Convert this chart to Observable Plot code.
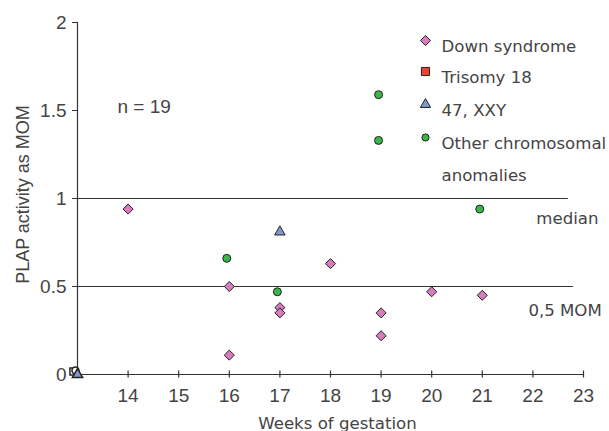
<!DOCTYPE html>
<html><head><meta charset="utf-8">
<script src="https://cdn.jsdelivr.net/npm/d3@7"></script>
<script src="https://cdn.jsdelivr.net/npm/@observablehq/plot@0.6"></script>
<style>body{margin:0;background:#fff} svg{display:block}</style>
</head><body><div id="chart"></div>
<script>
// ---- data ----
const downWeeks  = [14, 16, 16, 17, 17, 18, 19, 19, 20, 21];
const downMom    = [0.94, 0.50, 0.11, 0.38, 0.35, 0.63, 0.35, 0.22, 0.47, 0.45];
const otherWeeks = [15.95, 16.95, 18.95, 18.95, 20.95];
const otherMom   = [0.66, 0.47, 1.59, 1.33, 0.94];
const xxyWeeks   = [17];
const xxyMom     = [0.81];
const originWeeks = [13];   // stray points plotted at the origin
const originMom   = [0];
const xTicks = [14, 15, 16, 17, 18, 19, 20, 21, 22, 23];
const yTicks = [0, 0.5, 1, 1.5, 2];
const yTickLabels = ["0", "0.5", "1", "1.5", "2"];
const refLevels = [1, 0.5];
const refEnds   = [22.7, 22.8];
const refLabels = ["median", "0,5 MOM"];
const legendLabels = ["Down syndrome", "Trisomy 18", "47, XXY", "Other chromosomal", "anomalies"];
const sampleNote = "n = 19";
const xTitle = "Weeks of gestation";
const yTitle = "PLAP activity as MOM";

// ---- build ----
const toRows = (xs, ys) => xs.map((x, i) => ({week: x, mom: ys[i]}));
const down = toRows(downWeeks, downMom);
const other = toRows(otherWeeks, otherMom);
const xxy = toRows(xxyWeeks, xxyMom);
const origin = toRows(originWeeks, originMom);
const refs = refLevels.map((y, i) => ({y, end: refEnds[i], label: refLabels[i]}));

const diamond = {
  draw(ctx, size) {
    const h = Math.sqrt(size) * 0.63;
    ctx.moveTo(0, -h); ctx.lineTo(h, 0); ctx.lineTo(0, h); ctx.lineTo(-h, 0); ctx.closePath();
  }
};
const PINK = "#d97cbf", RED = "#e8432f", BLUE = "#8197cf", GREEN = "#3cb54a", INK = "#333", TXT = "#444";
const FS = "16.6px";
const HELV = "Liberation Sans";

const legendSyms = [
  {symbol: diamond, fill: PINK, r: 4.5},
  {symbol: "square", fill: RED, r: 4.6},
  {symbol: "triangle", fill: BLUE, r: 3.8},
  {symbol: "circle", fill: GREEN, r: 3.6}
];
const legendRowsY = [40, 71, 104, 137, 169];

const legendMarks = [];
legendSyms.forEach((s, i) => {
  legendMarks.push(Plot.dot([0], {frameAnchor: "top-left", dx: 425 - 77, dy: legendRowsY[i] - 22,
    symbol: s.symbol, fill: s.fill, r: s.r, stroke: "#222", strokeWidth: 1}));
});
legendLabels.forEach((t, i) => {
  legendMarks.push(Plot.text([t], {frameAnchor: "top-left", dx: 441 - 77, dy: legendRowsY[i] - 22,
    textAnchor: "start", fill: TXT, fontSize: FS}));
});

const chart = Plot.plot({
  width: 609, height: 431,
  marginLeft: 77, marginRight: 26, marginTop: 22, marginBottom: 57,
  x: {domain: [13, 23]},
  y: {domain: [0, 2]},
  style: {fontFamily: "DejaVu Sans", fontSize: FS, color: TXT, background: "#fff"},
  marks: [
    // axes lines
    Plot.ruleX([13], {y1: 0, y2: 2, stroke: INK, strokeWidth: 1.2}),
    Plot.ruleY([0], {x1: 13, x2: 23, stroke: INK, strokeWidth: 1.2}),
    Plot.ruleX(xTicks, {x: d => d, y1: 0, y2: 0, insetTop: -3.5, insetBottom: -3.5, stroke: INK, strokeWidth: 1.2}),
    Plot.axisY({ticks: yTicks, tickSize: 5, tickPadding: 6, label: null, stroke: INK,
      tickFormat: d => yTickLabels[yTicks.indexOf(d)], fill: TXT, fontSize: "19px", fontFamily: HELV}),
    Plot.axisX({ticks: xTicks, tickSize: 0, tickPadding: 14, label: null, fill: TXT, fontSize: "19px", fontFamily: HELV}),
    // reference lines
    Plot.ruleY(refs, {y: "y", x1: 13, x2: "end", stroke: INK, strokeWidth: 1.2}),
    Plot.text([refs[0]], {x: "end", y: "y", text: "label", textAnchor: "start", dx: 535 - 567, dy: 20, fill: TXT}),
    Plot.text([refs[1]], {x: "end", y: "y", text: "label", textAnchor: "start", dx: 528 - 573, dy: 24, fill: TXT}),
    // stray origin markers
    Plot.dot(origin, {x: "week", y: "mom", symbol: "square", r: 4, fill: "#fff", stroke: "#222", dx: -4, dy: -3}),
    Plot.dot(origin, {x: "week", y: "mom", symbol: "circle", r: 3.5, fill: "#fff", stroke: "#222", dx: -2, dy: -4}),
    Plot.dot(origin, {x: "week", y: "mom", symbol: "triangle", r: 3.8, fill: BLUE, stroke: "#222", dx: 0, dy: 0}),
    // data
    Plot.dot(down, {x: "week", y: "mom", symbol: diamond, r: 4.5, fill: PINK, stroke: "#222", strokeWidth: 1}),
    Plot.dot(other, {x: "week", y: "mom", symbol: "circle", r: 4, fill: GREEN, stroke: "#222", strokeWidth: 1}),
    Plot.dot(xxy, {x: "week", y: "mom", symbol: "triangle", r: 3.9, fill: BLUE, stroke: "#222", strokeWidth: 1}),
    // notes & titles
    Plot.text([sampleNote], {frameAnchor: "top-left", dx: 117 - 77, dy: 99 - 22, textAnchor: "start", fill: TXT, fontFamily: HELV, fontSize: "19px"}),
    Plot.text([xTitle], {frameAnchor: "bottom", dx: 7, dy: 54, fill: TXT}),
    Plot.text([yTitle], {frameAnchor: "left", rotate: -90, textAnchor: "middle", dx: 23 - 77, dy: -4, fill: TXT, fontFamily: HELV, fontSize: "18px"}),
    ...legendMarks
  ]
});
document.getElementById("chart").appendChild(chart);
</script>
</body></html>
